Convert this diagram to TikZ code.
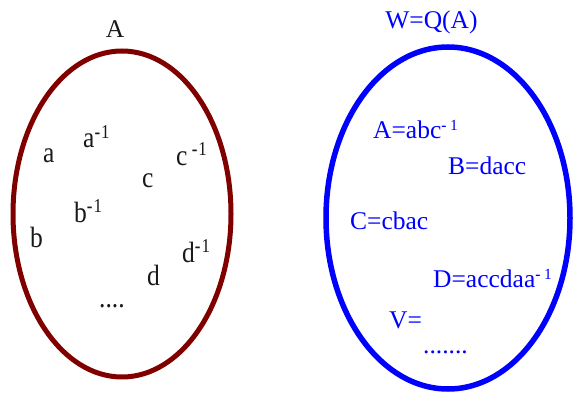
\documentclass[tikz,border=0pt]{standalone}
\usepackage{fontspec}
\usepackage{graphicx}
\setmainfont{Liberation Serif}
\definecolor{ringred}{HTML}{800000}
\definecolor{ringblue}{HTML}{0000FF}
\newcommand{\leftinv}{\raisebox{8.5pt}{\fontsize{17}{17}\selectfont {\bfseries -}\kern1pt 1}}
\newcommand{\rightinv}{\raisebox{8pt}{\fontsize{15.5}{15.5}\selectfont {\bfseries -}\kern3.5pt 1}}
\newcommand{\vs}[1]{\scalebox{1}[1.15]{#1}}
\begin{document}
\begin{tikzpicture}[x=1pt,y=-1pt,
  lbl/.style={anchor=base west,inner sep=0pt,font=\fontsize{25.5}{30}\selectfont},
  ttl/.style={anchor=base,inner sep=0pt,font=\fontsize{25.5}{30}\selectfont},
  blk/.style={lbl,text=black!90},
  blu/.style={lbl,text=ringblue}]
\useasboundingbox (0,0) rectangle (573,393);
% ellipses
\draw[ringred, line width=5pt] (122,214) ellipse [x radius=109pt, y radius=163pt];
\draw[ringblue, line width=5.5pt] (448,218) ellipse [x radius=122pt, y radius=171pt];
% titles
\node[ttl,text=black!90] (tA) at (115,38) {A};
\node[ttl,text=ringblue] (tW) at (431.5,29) {W=Q(A)};
% left set
\node[blk] (la) at (43,163) {\vs{a}};
\node[blk] (lai) at (83,148) {\vs{a\leftinv}};
\node[blk] (lc) at (142,187) {\vs{c}};
\node[blk] (lci) at (176,165) {\vs{c\,\leftinv}};
\node[blk] (lbi) at (74,222) {\vs{b\leftinv}};
\node[blk] (lb) at (30,247) {\vs{b}};
\node[blk] (ldi) at (182,262) {\vs{d\leftinv}};
\node[blk] (ld) at (147,285) {\vs{d}};
\node[blk] (ldots) at (99,307) {\vs{....}};
% right set
\node[blu] (rA) at (373,139) {A=abc\rightinv};
\node[blu] (rB) at (448,175) {B=dacc};
\node[blu] (rC) at (350,229) {C=cbac};
\node[blu] (rD) at (433,287) {D=accdaa\rightinv};
\node[blu] (rV) at (389,328) {V=};
\node[blu] (rdots) at (423,353) {.......};
\end{tikzpicture}
\end{document}
